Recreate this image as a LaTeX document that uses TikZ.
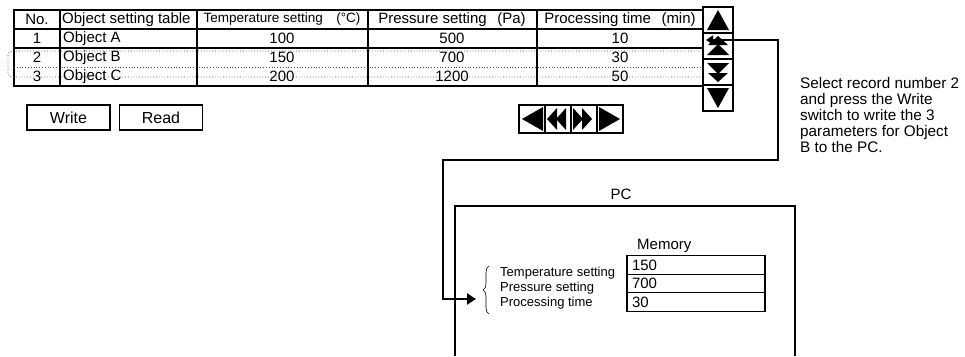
\documentclass[tikz,border=0pt]{standalone}
\usepackage{fontspec}
\setmainfont{Liberation Sans}
\usetikzlibrary{arrows.meta,decorations.pathreplacing}
\begin{document}
\begin{tikzpicture}[x=1pt,y=-1pt,
  tline/.style={draw=black,line width=1.1pt},
  dotline/.style={draw=black!70,line width=0.8pt,dotted},
  txt/.style={inner sep=0pt,font=\fontsize{15}{17}\selectfont},
  small/.style={inner sep=0pt,font=\fontsize{13}{15}\selectfont},
  sbox/.style={draw=black,line width=1.2pt,minimum width=30pt,minimum height=26pt,inner sep=0pt},
  nbox/.style={draw=black,line width=1.2pt,minimum width=26pt,minimum height=28pt,inner sep=0pt},
  btn/.style={draw=black,line width=1.1pt,minimum width=83pt,minimum height=25pt,inner sep=0pt,font=\fontsize{16}{18}\selectfont},
  mbox/.style={draw=black,line width=1.1pt,minimum width=138pt,minimum height=18.5pt,inner sep=0pt,text width=128pt,align=left,font=\fontsize{15}{17}\selectfont},
  conn/.style={draw=black,line width=2.6pt},
  tri/.style={fill=black}]
\useasboundingbox (0,0) rectangle (965,356);

% ---- table ----
\draw[tline] (14,10) rectangle (703,86);
\draw[tline] (14,29) -- (703,29);
\draw[tline] (14,48) -- (703,48);
\draw[dotline] (14,67) -- (703,67);
\foreach \x in {60,197,368,537} \draw[tline] (\x,10) -- (\x,86);
% selection box
\draw[dotline,rounded corners=4pt] (703,51) -- (8,51) -- (8,77) -- (703,77);

% header
\node[txt] (hno) at (37,19.5) {No.};
\node[txt,anchor=west] (hobj) at (62,19.5) {Object setting table};
\node[inner sep=0pt,font=\fontsize{13.5}{15}\selectfont] (htemp) at (282,19.5) {Temperature setting\hspace{1em}(°C)};
\node[txt] (hpres) at (452,19.5) {Pressure setting\hspace{0.7em}(Pa)};
\node[txt] (hproc) at (620,19.5) {Processing time\hspace{0.7em}(min)};
% rows
\node[txt] (n1) at (37,38.5) {1};
\node[txt,anchor=west] (o1) at (63,38.5) {Object A};
\node[txt] (t1) at (282,38.5) {100};
\node[txt] (p1) at (452,38.5) {500};
\node[txt] (m1) at (620,38.5) {10};
\node[txt] (n2) at (37,57.5) {2};
\node[txt,anchor=west] (o2) at (63,57.5) {Object B};
\node[txt] (t2) at (282,57.5) {150};
\node[txt] (p2) at (452,57.5) {700};
\node[txt] (m2) at (620,57.5) {30};
\node[txt] (n3) at (37,76.5) {3};
\node[txt,anchor=west] (o3) at (63,76.5) {Object C};
\node[txt] (t3) at (282,76.5) {200};
\node[txt] (p3) at (452,76.5) {1200};
\node[txt] (m3) at (620,76.5) {50};

% ---- scroll buttons ----
\node[sbox] (s1) at (718,20) {};
\node[sbox] (s2) at (718,46) {};
\node[sbox] (s3) at (718,72) {};
\node[sbox] (s4) at (718,98) {};
\fill[tri] (707,30) -- (729,30) -- (718,10) -- cycle;
\fill[tri] (708,45) -- (728,45) -- (718,36) -- cycle;
\fill[tri] (707,55) -- (729,55) -- (718,44) -- cycle;
\fill[tri] (707,63) -- (729,63) -- (718,74) -- cycle;
\fill[tri] (708,73) -- (728,73) -- (718,82) -- cycle;
\fill[tri] (707,88) -- (729,88) -- (718,108) -- cycle;

% ---- Write / Read ----
\node[btn] (write) at (68.5,117.5) {Write};
\node[btn] (read) at (161,117.5) {Read};

% ---- navigation buttons ----
\node[nbox] (b1) at (532,119) {};
\node[nbox] (b2) at (558,119) {};
\node[nbox] (b3) at (584,119) {};
\node[nbox] (b4) at (610,119) {};
\fill[tri] (522,119) -- (543,107) -- (543,131) -- cycle;
\fill[tri] (547,119) -- (557,108) -- (557,130) -- cycle;
\fill[tri] (556,119) -- (566,108) -- (566,130) -- cycle;
\fill[tri] (573,108) -- (573,130) -- (583,119) -- cycle;
\fill[tri] (582,108) -- (582,130) -- (592,119) -- cycle;
\fill[tri] (599,107) -- (599,131) -- (620,119) -- cycle;

% ---- explanation ----
\node[inner sep=0pt,anchor=north west,align=left,font=\fontsize{15.3}{16}\selectfont] (note) at (800,77)
  {Select record number 2\\and press the Write\\switch to write the 3\\parameters for Object\\B to the PC.};

% ---- PC ----
\node[txt] (pc) at (621,194) {PC};
\draw[tline] (455,356) -- (455,206) -- (795,206) -- (795,356);
\node[txt,anchor=west] (mem) at (637,246) {Memory};
\node[mbox] (v1) at (696,265) {150};
\node[mbox] (v2) at (696,283.5) {700};
\node[mbox] (v3) at (696,302) {30};
\node[small,anchor=west] (l1) at (500,273) {Temperature setting};
\node[small,anchor=west] (l2) at (500,288) {Pressure setting};
\node[small,anchor=west] (l3) at (500,303) {Processing time};
\draw[line width=0.6pt,decorate,decoration={brace,amplitude=6pt}] (489,314) -- (489,266);

% ---- connector ----
\coordinate (k1) at (778,160);
\coordinate (k2) at (443,160);
\coordinate (tip) at (476,299);
\draw[conn,{Triangle[length=7pt,width=9pt]}-{Triangle[length=9pt,width=11pt]}]
  ([xshift=-12pt,yshift=6pt]s2.center) -- ([yshift=6pt]s2.center -| k1) -- (k1) -- (k2) -- (k2 |- tip) -- (tip);
\end{tikzpicture}
\end{document}
